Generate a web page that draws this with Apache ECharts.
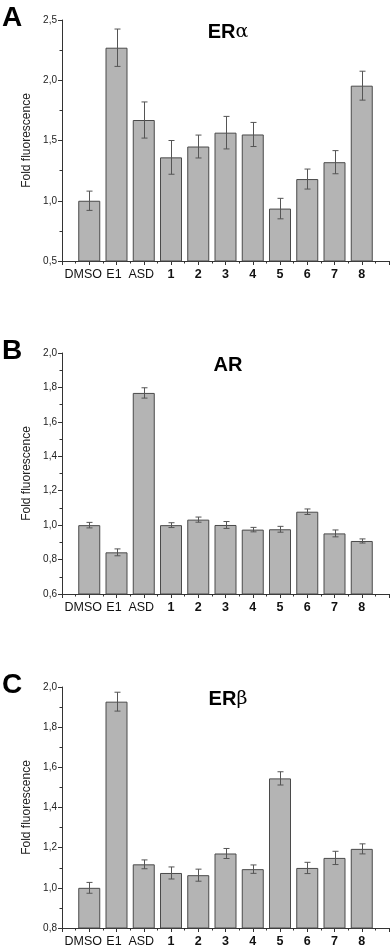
<!DOCTYPE html>
<html>
<head>
<meta charset="utf-8">
<script src="https://cdn.jsdelivr.net/npm/echarts@6/dist/echarts.min.js"></script>
<style>
  html, body { margin: 0; padding: 0; background: #fff; }
  #chart { width: 392px; height: 948px; }
</style>
</head>
<body>
<div id="chart"></div>
<script>
// categories along the x axis (drawn at positions 1..11)
const categories = ['DMSO', 'E1', 'ASD', '1', '2', '3', '4', '5', '6', '7', '8'];

// panel A: ER alpha
const erAlphaValues = [1.00, 2.27, 1.67, 1.36, 1.45, 1.565, 1.55, 0.935, 1.18, 1.32, 1.955];
const erAlphaErrors = [0.08, 0.155, 0.15, 0.14, 0.095, 0.135, 0.10, 0.085, 0.083, 0.096, 0.12];

// panel B: AR
const arValues = [1.00, 0.842, 1.768, 1.00, 1.032, 1.001, 0.974, 0.976, 1.078, 0.952, 0.908];
const arErrors = [0.016, 0.02, 0.03, 0.014, 0.015, 0.02, 0.013, 0.017, 0.016, 0.02, 0.012];

// panel C: ER beta
const erBetaValues = [1.00, 1.927, 1.117, 1.074, 1.063, 1.171, 1.093, 1.545, 1.099, 1.149, 1.194];
const erBetaErrors = [0.027, 0.047, 0.022, 0.03, 0.03, 0.025, 0.021, 0.033, 0.028, 0.033, 0.025];

// y axis ranges: [min, max, interval]
const yRangeA = [0.5, 2.5, 0.5];
const yRangeB = [0.6, 2.0, 0.2];
const yRangeC = [0.8, 2.0, 0.2];

const FONT = '"Liberation Sans", Arial, sans-serif';
const AXIS_COLOR = '#333';

const panels = [
  { letter: 'A', title: 'ER', greek: 'α', values: erAlphaValues, errors: erAlphaErrors, range: yRangeA, top: 20 },
  { letter: 'B', title: 'AR', greek: '', values: arValues, errors: arErrors, range: yRangeB, top: 353 },
  { letter: 'C', title: 'ER', greek: 'β', values: erBetaValues, errors: erBetaErrors, range: yRangeC, top: 687 }
];
const GRID_H = 241;

const myChart = echarts.init(document.getElementById('chart'));

let option = {
  backgroundColor: '#fff',
  animation: false,
  grid: [],
  xAxis: [],
  yAxis: [],
  series: [],
  graphic: []
};

panels.forEach(function (p, k) {
  option.grid.push({ left: 62, width: 328, top: p.top, height: GRID_H });

  option.xAxis.push({
    type: 'value', gridIndex: k, min: 0, max: categories.length + 1, interval: 1,
    splitLine: { show: false },
    axisLine: { lineStyle: { color: AXIS_COLOR, width: 1 } },
    axisTick: { length: 4, lineStyle: { color: AXIS_COLOR } },
    minorTick: { show: true, splitNumber: 2, length: 2.5, lineStyle: { color: AXIS_COLOR } },
    axisLabel: {
      margin: 7,
      showMinLabel: true, showMaxLabel: true,
      formatter: function (v) {
        const name = categories[Math.round(v) - 1];
        if (name === undefined) return '';
        if (name === 'DMSO') return '{d|' + name + '}';
        if (name === 'E1' || name === 'ASD') return '{t|' + name + '}';
        return '{b|' + name + '}';
      },
      rich: {
        d: { fontFamily: FONT, fontSize: 12.5, color: '#111', padding: [0, 12, 0, 0] },
        t: { fontFamily: FONT, fontSize: 12.5, color: '#111', padding: [0, 5, 0, 0] },
        b: { fontFamily: FONT, fontSize: 12.5, fontWeight: 'bold', color: '#111' }
      }
    }
  });

  option.yAxis.push({
    type: 'value', gridIndex: k, min: p.range[0], max: p.range[1], interval: p.range[2],
    name: 'Fold fluorescence', nameLocation: 'middle', nameRotate: 90, nameGap: 27,
    nameTextStyle: { fontFamily: FONT, fontSize: 12, color: '#222' },
    splitLine: { show: false },
    axisLine: { show: true, lineStyle: { color: AXIS_COLOR, width: 1 } },
    axisTick: { length: 4, lineStyle: { color: AXIS_COLOR } },
    minorTick: { show: true, splitNumber: 2, length: 2.5, lineStyle: { color: AXIS_COLOR } },
    axisLabel: {
      margin: 5, fontFamily: FONT, fontSize: 10, color: '#222',
      formatter: function (v) { return v.toFixed(1).replace('.', ','); }
    }
  });

  option.series.push({
    type: 'bar', xAxisIndex: k, yAxisIndex: k, barWidth: 22,
    itemStyle: { color: '#b4b4b4', borderColor: '#4a4a4a', borderWidth: 1 },
    data: p.values.map(function (v, i) { return [i + 1, v]; })
  });

  option.series.push({
    type: 'custom', xAxisIndex: k, yAxisIndex: k, z: 5,
    encode: { x: 0, y: [1, 2] },
    data: p.values.map(function (v, i) { return [i + 1, v - p.errors[i], v + p.errors[i]]; }),
    renderItem: function (params, api) {
      const x = api.value(0);
      const lo = api.coord([x, api.value(1)]);
      const hi = api.coord([x, api.value(2)]);
      const cx = Math.round(lo[0]) + 0.5;
      const cap = 3;
      const style = { stroke: '#555', lineWidth: 1 };
      return {
        type: 'group',
        children: [
          { type: 'line', shape: { x1: cx, y1: hi[1], x2: cx, y2: lo[1] }, style: style },
          { type: 'line', shape: { x1: cx - cap, y1: hi[1], x2: cx + cap, y2: hi[1] }, style: style },
          { type: 'line', shape: { x1: cx - cap, y1: lo[1], x2: cx + cap, y2: lo[1] }, style: style }
        ]
      };
    }
  });

  // panel letter
  option.graphic.push({
    type: 'text', left: 2, top: p.top - 16,
    style: { text: p.letter, fontFamily: FONT, fontSize: 28, fontWeight: 'bold', fill: '#000' }
  });

  // panel title
  option.graphic.push({
    type: 'text', x: 228, y: p.top + 12,
    style: {
      text: '{a|' + p.title + '}' + (p.greek ? '{g|' + p.greek + '}' : ''),
      align: 'center', verticalAlign: 'middle',
      rich: {
        a: { fontFamily: FONT, fontSize: 20, fontWeight: 'bold', fill: '#000' },
        g: { fontFamily: '"DejaVu Serif", serif', fontSize: 19, fill: '#000' }
      }
    }
  });
});

myChart.setOption(option);
</script>
</body>
</html>
